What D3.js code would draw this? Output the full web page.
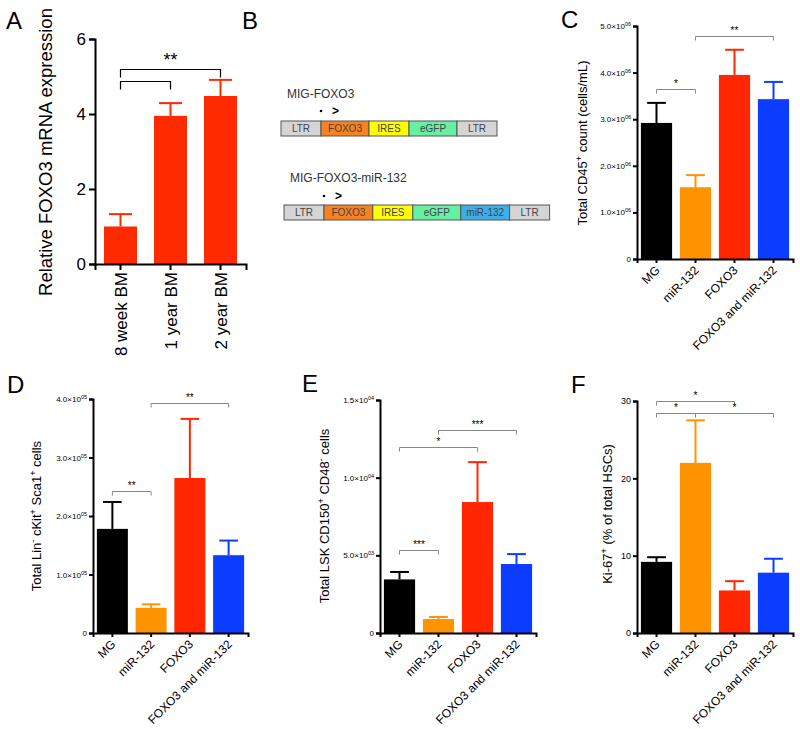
<!DOCTYPE html>
<html><head><meta charset="utf-8">
<script src="https://cdn.jsdelivr.net/npm/d3@7"></script>
<style>body{margin:0;background:#fff} text{font-family:"Liberation Sans",Arial,sans-serif}</style>
</head><body><svg id="c" width="800" height="729"></svg>
<script>
// ---------- Panel A data ----------
const groupsA = ["8 week BM","1 year BM","2 year BM"];
const meanA = [1.0, 3.95, 4.48];
const semA = [0.33, 0.34, 0.43];
const ticksA = [0, 2, 4, 6];
const sigA = [[0,1,4.88,""],[0,2,5.2,"**"]];

// ---------- Panels C-F data ----------
const groups = ["MG","miR-132","FOXO3","FOXO3 and miR-132"];
const barColors = ["#000000","#ff9400","#ff2600","#0a3dff"];
const meanC = [2.92e6, 1.54e6, 3.95e6, 3.43e6];
const semC = [0.43e6, 0.26e6, 0.54e6, 0.37e6];
const ticksC = [0, 1e6, 2e6, 3e6, 4e6, 5e6];
const sigC = [[0,1,3.65e6,"*"],[1,3,4.79e6,"**"]];

const meanD = [1.78e5, 0.43e5, 2.65e5, 1.33e5];
const semD = [0.46e5, 0.06e5, 1.01e5, 0.25e5];
const ticksD = [0, 1e5, 2e5, 3e5, 4e5];
const sigD = [[0,1,2.43e5,"**"],[1,3,3.93e5,"**"]];

const meanE = [3.45e3, 0.90e3, 8.43e3, 4.44e3];
const semE = [0.48e3, 0.13e3, 2.57e3, 0.64e3];
const ticksE = [0, 5e3, 1e4, 1.5e4];
const sigE = [[0,1,5.34e3,"***"],[0,2,11.98e3,"*"],[1,3,13.1e3,"***"]];

const meanF = [9.2, 22.0, 5.5, 7.8];
const semF = [0.6, 5.5, 1.2, 1.8];
const ticksF = [0, 10, 20, 30];
const sigF = [[0,1,28.5,"*"],[0,2,30.0,"*"],[1,3,28.5,"*"]];

// ---------- Panel B data ----------
const constructNames = ["MIG-FOXO3","MIG-FOXO3-miR-132"];
const construct1 = ["LTR","FOXO3","IRES","eGFP","LTR"];
const construct1Len = [1, 1.2, 1, 1.2, 1];
const construct2 = ["LTR","FOXO3","IRES","eGFP","miR-132","LTR"];
const construct2Len = [1, 1.22, 1, 1.2, 1.22, 1];
const elementColors = {"LTR":"#d5d5d5","FOXO3":"#f7821f","IRES":"#ffff00","eGFP":"#66f0a3","miR-132":"#3daeea"};

const svg = d3.select("#c");

function richText(sel, parts, supSize, supShift){
  let shifted = false;
  parts.forEach(p=>{
    const t = sel.append("tspan").text(p.t);
    if(p.sup){ t.attr("font-size", supSize).attr("dy", -supShift); shifted = true; }
    else if(shifted){ t.attr("dy", supShift); shifted = false; }
  });
}

function letter(x, y, s){
  svg.append("text").attr("x", x).attr("y", y).attr("font-size", 24).attr("fill","#000").text(s);
}

function barPanel(o){
  const g = svg.append("g");
  const x = d3.scaleBand().domain(o.cats).range([o.x0, o.x1]).paddingInner(o.pi).paddingOuter(o.po);
  const y = d3.scaleLinear().domain([0, o.max]).range([o.yb, o.yt]);
  g.selectAll("rect.bar").data(o.means).join("rect")
    .attr("x", (d,i)=>x(o.cats[i])).attr("width", x.bandwidth())
    .attr("y", d=>y(d)).attr("height", d=>y(0)-y(d))
    .attr("fill", (d,i)=>o.colors[i]);
  const cw = x.bandwidth()*o.cap;
  o.means.forEach((m,i)=>{
    const cx = x(o.cats[i]) + x.bandwidth()/2;
    g.append("line").attr("x1",cx).attr("x2",cx).attr("y1",y(m)).attr("y2",y(m+o.sems[i]))
      .attr("stroke",o.colors[i]).attr("stroke-width",o.ew);
    g.append("line").attr("x1",cx-cw/2).attr("x2",cx+cw/2).attr("y1",y(m+o.sems[i])).attr("y2",y(m+o.sems[i]))
      .attr("stroke",o.colors[i]).attr("stroke-width",o.ew);
  });
  const ya = g.append("g").attr("transform",`translate(${o.x0},0)`)
    .call(d3.axisLeft(y).tickValues(o.ticks).tickSizeOuter(0).tickSize(o.tick).tickPadding(o.tpad).tickFormat(o.fmt));
  ya.select(".domain").attr("stroke-width", o.aw);
  ya.selectAll(".tick line").attr("stroke-width", o.aw);
  ya.selectAll(".tick text").attr("font-size", o.tfs).attr("font-family",'"Liberation Sans",Arial,sans-serif');
  if(o.sci){
    ya.selectAll(".tick text").each(function(d){
      const t = d3.select(this); t.text(null);
      if(d===0){ t.text("0"); return; }
      const e = Math.floor(Math.log10(d) + 1e-9);
      const m = (d/Math.pow(10,e)).toFixed(1);
      richText(t, [{t:m+"\u00d710"},{t:String(e).padStart(2,"0"),sup:true}], 5.5, 3);
    });
  }
  const xa = g.append("g").attr("transform",`translate(0,${o.yb})`)
    .call(d3.axisBottom(x).tickSizeOuter(0).tickSize(o.tick).tickFormat(""));
  xa.select(".domain").attr("stroke-width", o.aw);
  xa.selectAll(".tick line").attr("stroke-width", o.aw);
  o.cats.forEach((c,i)=>{
    const cx = x(c) + x.bandwidth()/2;
    if(o.rot === -90){
      g.append("text").attr("font-size",o.cfs).attr("text-anchor","end")
        .attr("transform",`translate(${cx+6},${o.yb+8}) rotate(-90)`).text(c);
    } else {
      g.append("text").attr("font-size",o.cfs).attr("text-anchor","end")
        .attr("transform",`translate(${cx+4},${o.yb+12}) rotate(-45)`).text(c);
    }
  });
  o.sig.forEach(s=>{
    const xa1 = x(o.cats[s[0]]) + x.bandwidth()/2, xa2 = x(o.cats[s[1]]) + x.bandwidth()/2;
    const yy = Math.round(y(s[2]))+0.5;
    g.append("path").attr("d",`M${xa1},${yy+o.bt}V${yy}H${xa2}V${yy+o.bt}`)
      .attr("fill","none").attr("stroke",o.bc).attr("stroke-width",o.bw);
    if(s[3]) g.append("text").attr("x",(xa1+xa2)/2).attr("y",yy+o.sdy).attr("text-anchor","middle")
      .attr("font-size",o.sfs).text(s[3]);
  });
  const yl = g.append("text").attr("text-anchor","middle").attr("font-size",o.lfs)
    .attr("transform",`translate(${o.lx},${o.ly}) rotate(-90)`);
  richText(yl, o.label, o.lfs*0.7, o.lfs*0.4);
}

// Panel A
letter(6, 29, "A");
barPanel({cats:groupsA, means:meanA, sems:semA, colors:groupsA.map(()=> "#ff2a00"), max:6,
  x0:95, x1:246, pi:0.34, po:0.18, yb:264, yt:39, ticks:ticksA, fmt:d3.format("d"), tick:6, tpad:3, tfs:17,
  aw:2, ew:2, cap:0.7, rot:-90, cfs:17, sig:sigA, bt:8, bc:"#000", bw:1.2, sdy:-4, sfs:18,
  label:[{t:"Relative FOXO3 mRNA expression"}], lfs:18.5, lx:52, ly:152});

// Panel C
letter(561, 28, "C");
barPanel({cats:groups, means:meanC, sems:semC, colors:barColors, max:5e6,
  x0:637, x1:793, pi:0.2, po:0.1, yb:259, yt:26, ticks:ticksC, fmt:d=>d, sci:true, tick:4, tpad:2, tfs:8,
  aw:2, ew:2, cap:0.6, rot:-45, cfs:12, sig:sigC, bt:4, bc:"#888", bw:1, sdy:-3, sfs:10,
  label:[{t:"Total CD45"},{t:"+",sup:true},{t:" count (cells/mL)"}], lfs:13, lx:587, ly:143});

// Panel D
letter(7, 393, "D");
barPanel({cats:groups, means:meanD, sems:semD, colors:barColors, max:4e5,
  x0:93, x1:248, pi:0.2, po:0.1, yb:633, yt:399, ticks:ticksD, fmt:d=>d, sci:true, tick:4, tpad:2, tfs:8,
  aw:2, ew:2, cap:0.6, rot:-45, cfs:12, sig:sigD, bt:4, bc:"#888", bw:1, sdy:-3, sfs:10,
  label:[{t:"Total Lin"},{t:"-",sup:true},{t:" cKit"},{t:"+",sup:true},{t:" Sca1"},{t:"+",sup:true},{t:" cells"}], lfs:13, lx:41, ly:516});

// Panel E
letter(302, 392, "E");
barPanel({cats:groups, means:meanE, sems:semE, colors:barColors, max:1.5e4,
  x0:380, x1:536, pi:0.2, po:0.1, yb:633, yt:400, ticks:ticksE, fmt:d=>d, sci:true, tick:4, tpad:2, tfs:8,
  aw:2, ew:2, cap:0.6, rot:-45, cfs:12, sig:sigE, bt:4, bc:"#888", bw:1, sdy:-3, sfs:10,
  label:[{t:"Total LSK CD150"},{t:"+",sup:true},{t:" CD48"},{t:"-",sup:true},{t:" cells"}], lfs:13, lx:329, ly:516});

// Panel F
letter(571, 393, "F");
barPanel({cats:groups, means:meanF, sems:semF, colors:barColors, max:30,
  x0:637, x1:793, pi:0.2, po:0.1, yb:633, yt:401, ticks:ticksF, fmt:d3.format("d"), tick:4, tpad:2, tfs:9,
  aw:2, ew:2, cap:0.6, rot:-45, cfs:12, sig:sigF, bt:4, bc:"#888", bw:1, sdy:-3, sfs:10,
  label:[{t:"Ki-67"},{t:"+",sup:true},{t:" (% of total HSCs)"}], lfs:13, lx:612, ly:514});

// Panel B
letter(242, 29, "B");
function construct(names, lens, x0, yTop, title, titleY, markY){
  const tot = d3.sum(lens);
  const sx = d3.scaleLinear().domain([0, tot]).range([x0, x0 + tot*40]);
  let acc = 0;
  const g = svg.append("g");
  g.append("text").attr("x", x0+6).attr("y", titleY).attr("font-size",12).attr("fill","#333")
    .attr("font-family","Lato, 'DejaVu Sans', sans-serif").text(title);
  names.forEach((n,i)=>{
    const a = sx(acc), b = sx(acc+lens[i]); acc += lens[i];
    g.append("rect").attr("x",a).attr("y",yTop).attr("width",b-a).attr("height",15)
      .attr("fill",elementColors[n]).attr("stroke","#555").attr("stroke-width",1);
    g.append("text").attr("x",(a+b)/2).attr("y",yTop+11).attr("text-anchor","middle")
      .attr("font-size",10).attr("fill","#444").attr("font-family","Lato, 'DejaVu Sans', sans-serif").text(n);
  });
  const fx = sx(lens[0]);
  g.append("circle").attr("cx",fx).attr("cy",markY).attr("r",1.3).attr("fill","#000");
  g.append("text").attr("x",fx+11).attr("y",markY+4).attr("font-size",12).attr("font-weight","bold").text(">");
}
construct(construct1, construct1Len, 281, 121, constructNames[0], 98, 111);
construct(construct2, construct2Len, 284, 205, constructNames[1], 182, 196);
</script></body></html>
